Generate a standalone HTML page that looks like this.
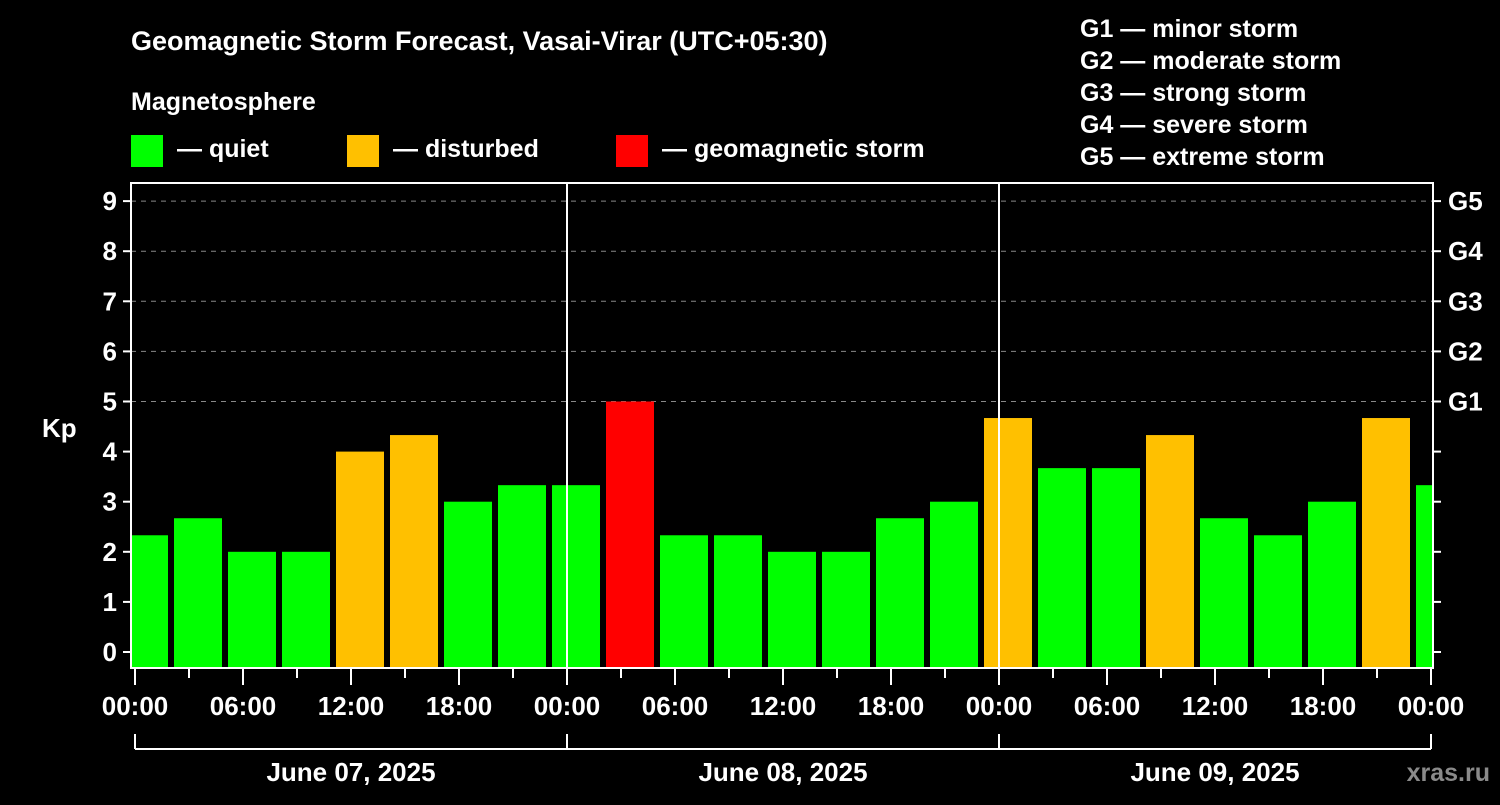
<!DOCTYPE html>
<html><head><meta charset="utf-8"><style>
body{margin:0;background:#000;width:1500px;height:800px;overflow:hidden}
svg text{font-family:"Liberation Sans",Arial,sans-serif;font-weight:bold;fill:#fff}
</style></head><body>
<svg id="chart" width="1500" height="800" xmlns="http://www.w3.org/2000/svg">
<rect width="1500" height="800" fill="#000"/>
<text x="131" y="50" font-size="27">Geomagnetic Storm Forecast, Vasai-Virar (UTC+05:30)</text>
<text x="131" y="110" font-size="25">Magnetosphere</text>
<g><rect x="131" y="135" width="32" height="32" fill="#00ff00"/><text x="177" y="157" font-size="25">— quiet</text></g>
<g><rect x="347" y="135" width="32" height="32" fill="#ffc000"/><text x="393" y="157" font-size="25">— disturbed</text></g>
<g><rect x="616" y="135" width="32" height="32" fill="#ff0000"/><text x="662" y="157" font-size="25">— geomagnetic storm</text></g>
<g font-size="25">
<text x="1080" y="37">G1 — minor storm</text>
<text x="1080" y="69">G2 — moderate storm</text>
<text x="1080" y="101">G3 — strong storm</text>
<text x="1080" y="133">G4 — severe storm</text>
<text x="1080" y="165">G5 — extreme storm</text>
</g>
<text x="42" y="437" font-size="26">Kp</text>
<text x="1490" y="781" font-size="25" text-anchor="end" fill="#888" style="fill:#8a8a8a">xras.ru</text>
<g id="grid"></g><g id="bars"></g><g id="axes"></g>
</svg>
<script>
const kpValues=[2.33,2.67,2,2,4,4.33,3,3.33,3.33,5,2.33,2.33,2,2,2.67,3,4.67,3.67,3.67,4.33,2.67,2.33,3,4.67,3.33];
const yTickLabels=["0","1","2","3","4","5","6","7","8","9"];
const gLabels=["G1","G2","G3","G4","G5"];
const xTickLabels=["00:00","06:00","12:00","18:00","00:00","06:00","12:00","18:00","00:00","06:00","12:00","18:00","00:00"];
const dayLabels=["June 07, 2025","June 08, 2025","June 09, 2025"];
const NS="http://www.w3.org/2000/svg";
const L=131,R=1433,T=183,B=668,X0=135,PXH=18;
const y=k=>652-50.1*k;
const xh=h=>X0+h*PXH;
function mk(tag,attrs,parent,txt){const e=document.createElementNS(NS,tag);for(const k in attrs)e.setAttribute(k,attrs[k]);if(txt!==undefined)e.textContent=txt;document.getElementById(parent).appendChild(e);return e;}
for(let k=5;k<=9;k++){
 const g=mk('line',{x1:L,x2:R,y1:y(k),y2:y(k),stroke:'#888','stroke-dasharray':'5,5'},'grid');
 
 
}
kpValues.forEach((v,i)=>{
 const s=Math.max(L+1,xh(-1+3*i)+3),e=Math.min(R-1,xh(2+3*i)-3);
 const c=v>=5?'#ff0000':v>=4?'#ffc000':'#00ff00';
 const r=mk('rect',{x:s,y:y(v),width:e-s,height:B-y(v),fill:c},'bars');
 
 
});
mk('rect',{x:L,y:T,width:R-L,height:B-T,fill:'none',stroke:'#fff','stroke-width':2},'axes');
[24,48].forEach(h=>{const l=mk('line',{x1:xh(h),x2:xh(h),y1:T,y2:B,stroke:'#fff','stroke-width':2},'axes');});
yTickLabels.forEach((t,k)=>{
 mk('line',{x1:L-8,x2:L,y1:y(k),y2:y(k),stroke:'#fff','stroke-width':2},'axes');
 mk('line',{x1:R,x2:R+8,y1:y(k),y2:y(k),stroke:'#fff','stroke-width':2},'axes');
 const tx=mk('text',{x:117,y:y(k)+9,'font-size':26,'text-anchor':'end'},'axes',t);
 
 
});
gLabels.forEach((t,i)=>{
 const tx=mk('text',{x:1448,y:y(5+i)+9,'font-size':26},'axes',t);
 
 
});
for(let h=0;h<=72;h+=3){
 const major=h%6===0;
 mk('line',{x1:xh(h),x2:xh(h),y1:B,y2:B+(major?17:10),stroke:'#fff','stroke-width':2},'axes');
}
xTickLabels.forEach((t,i)=>{
 const tx=mk('text',{x:xh(6*i),y:715,'font-size':26,'text-anchor':'middle'},'axes',t);
 
 
});
mk('line',{x1:xh(0),x2:xh(72),y1:749,y2:749,stroke:'#fff','stroke-width':2},'axes');
for(let d=0;d<=3;d++)mk('line',{x1:xh(24*d),x2:xh(24*d),y1:734,y2:749,stroke:'#fff','stroke-width':2},'axes');
dayLabels.forEach((t,d)=>{
 const tx=mk('text',{x:xh(24*d+12),y:781,'font-size':26,'text-anchor':'middle'},'axes',t);
 
 
});
</script>
</body></html>
